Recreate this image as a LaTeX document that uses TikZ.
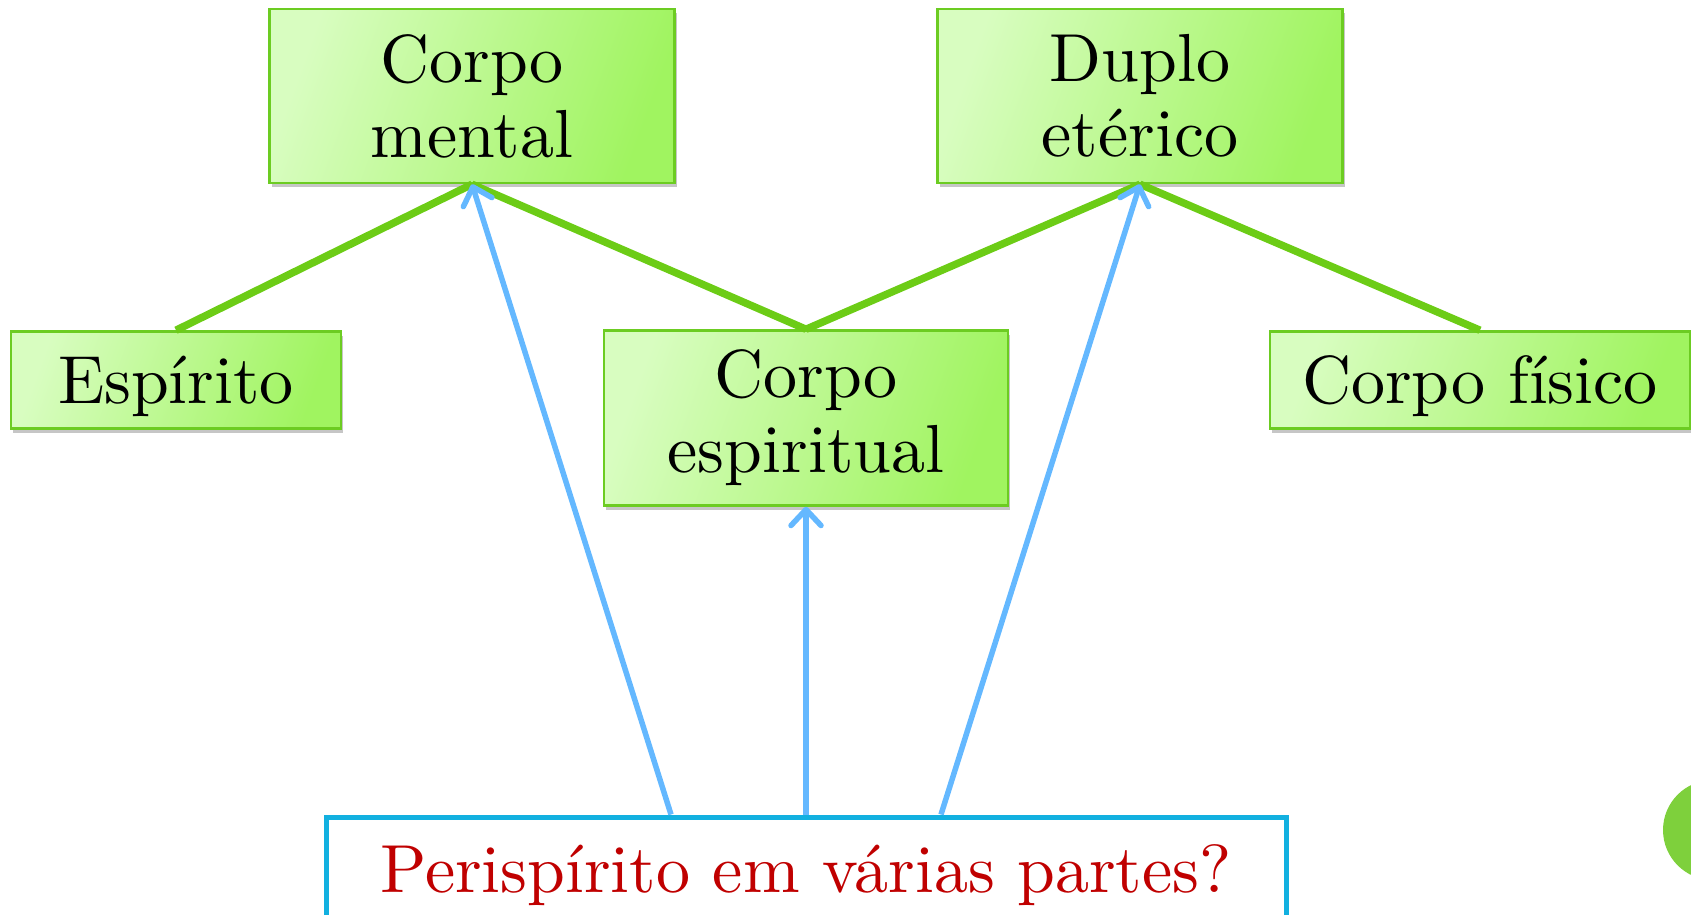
\documentclass[tikz,border=0pt]{standalone}
\usepackage{fontspec}
\setmainfont{lmroman10-regular.otf}
\usetikzlibrary{arrows.meta,shadows}
\definecolor{boxl}{HTML}{D8FDC0}
\definecolor{boxr}{HTML}{A0F460}
\definecolor{boxd}{HTML}{6CCC22}
\definecolor{linkg}{HTML}{6CCC16}
\definecolor{arrb}{HTML}{64B8FF}
\definecolor{qbord}{HTML}{12B0E0}
\definecolor{qtext}{HTML}{C00000}
\definecolor{dotg}{HTML}{7ED03C}
\tikzset{
  gbox/.style={draw=boxd, line width=2.5pt, left color=boxl, right color=boxr, shading angle=70,
    drop shadow={shadow xshift=2pt, shadow yshift=-4pt, opacity=0.45},
    align=center, inner sep=0pt, font=\fontsize{68}{75}\selectfont},
  oneline/.style={text depth=0pt},
  glink/.style={draw=linkg, line width=7.5pt},
  barrow/.style={draw=arrb, line width=5.5pt, -{Straight Barb[round,length=16pt,width=30pt]}},
}
\begin{document}
\begin{tikzpicture}[x=1pt,y=-1pt]
\useasboundingbox (0,0) rectangle (1691,914);
\node[gbox, minimum width=405pt, minimum height=174pt] (cm) at (472,96) {Corpo\\mental};
\node[gbox, minimum width=405pt, minimum height=174pt] (de) at (1140,96) {Duplo\\et\'erico};
\node[gbox, oneline, minimum width=330pt, minimum height=97pt] (es) at (176,380) {Esp\'irito};
\node[gbox, minimum width=404pt, minimum height=175pt] (ce) at (806,418) {Corpo\\espiritual};
\node[gbox, oneline, minimum width=420pt, minimum height=97pt] (cf) at (1480,380) {Corpo f\'isico};
\node[draw=qbord, line width=5pt, fill=white, minimum width=960pt, minimum height=104pt,
  inner sep=0pt, oneline, text=qtext, font=\fontsize{68}{75}\selectfont] (q) at (806,869) {Perisp\'irito em v\'arias partes?};
\fill[dotg] (1713,830) circle (50pt);
\draw[glink] (cm.south) -- (es.north);
\draw[glink] (cm.south) -- (ce.north);
\draw[glink] (de.south) -- (ce.north);
\draw[glink] (de.south) -- (cf.north);
\coordinate (q1) at ([xshift=-135pt]q.north);
\coordinate (q3) at ([xshift=135pt]q.north);
\draw[barrow] (q1) -- (cm.south);
\draw[barrow] (q.north) -- (ce.south);
\draw[barrow] (q3) -- (de.south);
\end{tikzpicture}
\end{document}
